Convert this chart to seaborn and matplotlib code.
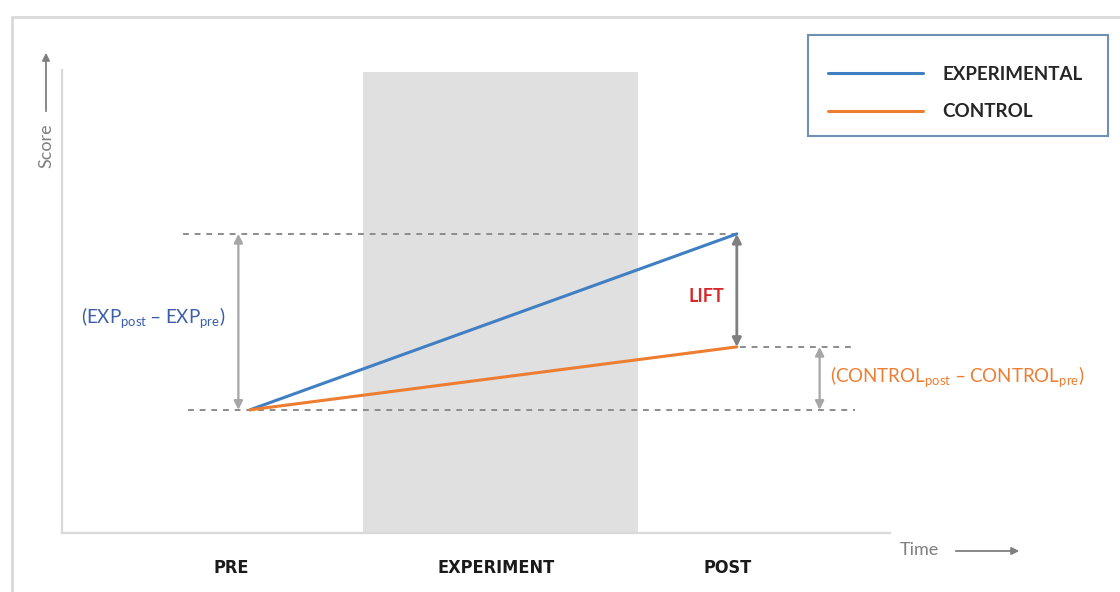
import pandas as pd
import matplotlib.pyplot as plt
import seaborn as sns
from matplotlib.lines import Line2D
from matplotlib.patches import FancyArrowPatch, Rectangle

# --- Data ---
phases = ['PRE', 'EXPERIMENT', 'POST']
phase_pos = [2.05, 5.24, 8.04]
time_points = [2.27, 8.15]
experimental = [2.66, 6.46]
control = [2.66, 4.02]
exp_window = [3.64, 6.96]

BLUE = '#3f7fc2'
ORANGE = '#ed7d31'
GRAY = '#8c8c8c'


def main():
    sns.set_theme(style='white')
    plt.rcParams['font.family'] = ['Lato', 'DejaVu Sans']

    df = pd.DataFrame({
        'Time': time_points + time_points,
        'Score': experimental + control,
        'Group': ['EXPERIMENTAL'] * 2 + ['CONTROL'] * 2,
    })

    fig = plt.figure(figsize=(11.2, 5.92), dpi=100)
    W, H = 1120, 592
    ax = fig.add_axes([62 / W, 1 - 533 / H, (890 - 62) / W, (533 - 70) / H])

    # outer frame (top + left)
    fig.add_artist(Line2D([12 / W, 1], [1 - 17 / H, 1 - 17 / H], color='#d9d9d9', lw=2))
    fig.add_artist(Line2D([12 / W, 12 / W], [0, 1 - 17 / H], color='#d9d9d9', lw=2))

    ax.axvspan(exp_window[0], exp_window[1], ymin=0, ymax=0.995, color='#e0e0e0', lw=0, zorder=0)

    sns.lineplot(data=df, x='Time', y='Score', hue='Group',
                 palette={'EXPERIMENTAL': BLUE, 'CONTROL': ORANGE},
                 lw=2.2, ax=ax, legend=False, zorder=3)

    ax.set_xlim(0, 10)
    ax.set_ylim(0, 10)

    # dashed guides
    ax.plot([1.46, time_points[1]], [experimental[1]] * 2, ls=(0, (3, 3)), color=GRAY, lw=1.4)
    ax.plot([1.52, 9.58], [experimental[0]] * 2, ls=(0, (3, 3)), color=GRAY, lw=1.4)
    ax.plot([time_points[1] + 0.04, 9.58], [control[1]] * 2, ls=(0, (3, 3)), color=GRAY, lw=1.4)

    arrow = dict(arrowstyle='<|-|>', color='#a6a6a6', lw=1.6, mutation_scale=13, shrinkA=0, shrinkB=0)
    ax.annotate('', xy=(2.13, experimental[1]), xytext=(2.13, experimental[0]), arrowprops=arrow)
    ax.annotate('', xy=(9.15, control[1]), xytext=(9.15, control[0]), arrowprops=arrow)
    lift = dict(arrow, color='#7f7f7f', lw=2)
    ax.annotate('', xy=(time_points[1], experimental[1]), xytext=(time_points[1], control[1]), arrowprops=lift)

    ax.text(1.1, 4.64, r'(EXP$_{\mathregular{post}}$ – EXP$_{\mathregular{pre}}$)',
            color='#3b5fa6', fontsize=13.5, ha='center', va='center')
    ax.text(7.78, 5.1, 'LIFT', color='#d9262b', fontsize=13, fontweight='bold', ha='center', va='center')
    ax.text(9.27, 3.35, r'(CONTROL$_{\mathregular{post}}$ – CONTROL$_{\mathregular{pre}}$)',
            color=ORANGE, fontsize=13.5, ha='left', va='center')

    # axes styling
    for s in ['top', 'right']:
        ax.spines[s].set_visible(False)
    for s in ['left', 'bottom']:
        ax.spines[s].set_color('#d9d9d9')
        ax.spines[s].set_linewidth(1.6)
    ax.set_yticks([])
    ax.set_xticks(phase_pos)
    ax.set_xticklabels(phases, fontsize=13, fontweight='bold', color='#1a1a1a',
                       family='DejaVu Sans', fontstretch='condensed')
    ax.tick_params(axis='x', length=0, pad=19)
    ax.set_xlabel('')
    ax.set_ylabel('')

    # axis titles with arrows
    fig.text(46 / W, 1 - 146 / H, 'Score', rotation=90, color='#7f7f7f', fontsize=13,
             ha='center', va='center')
    fig.add_artist(FancyArrowPatch(
        (46 / W, 1 - 114 / H), (46 / W, 1 - 50 / H), transform=fig.transFigure,
        arrowstyle='-|>', mutation_scale=11, color='#7f7f7f', lw=1.3))
    fig.text(919 / W, 1 - 550 / H, 'Time', color='#7f7f7f', fontsize=13, ha='center', va='center')
    fig.add_artist(FancyArrowPatch(
        (953 / W, 1 - 551 / H), (1022 / W, 1 - 551 / H), transform=fig.transFigure,
        arrowstyle='-|>', mutation_scale=11, color='#7f7f7f', lw=1.3))

    # legend (frame drawn separately)
    fig.add_artist(Rectangle((808 / W, 1 - 136 / H), 300 / W, 101 / H, transform=fig.transFigure,
                             fill=False, edgecolor='#6f8fb3', lw=1.5))
    handles = [Line2D([], [], color=BLUE, lw=2.2), Line2D([], [], color=ORANGE, lw=2.2)]
    leg = ax.legend(handles, ['EXPERIMENTAL', 'CONTROL'], loc='upper left',
                    bbox_to_anchor=(807 / W, 1 - 45 / H), bbox_transform=fig.transFigure,
                    frameon=False, handlelength=5.1, handletextpad=1.0,
                    labelspacing=1.11, borderpad=1.1, borderaxespad=0,
                    prop={'size': 13.5, 'weight': 'bold'})
    for t in leg.get_texts():
        t.set_color('#262626')

    plt.savefig('out.png', dpi=100)


if __name__ == '__main__':
    main()
